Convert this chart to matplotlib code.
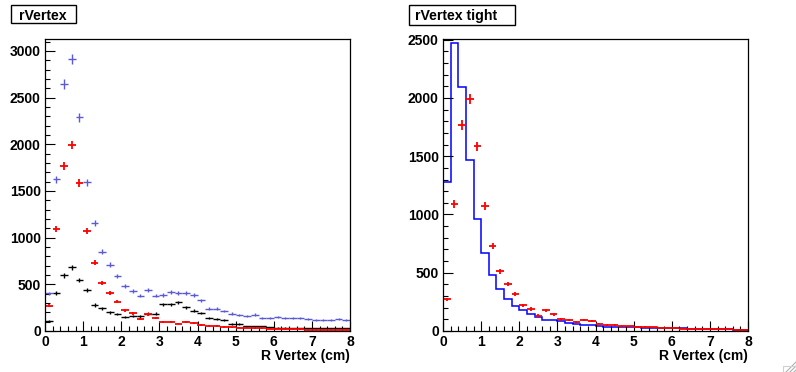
import matplotlib
matplotlib.use("Agg")
import matplotlib.pyplot as plt
import numpy as np
from matplotlib.ticker import MultipleLocator
from matplotlib.lines import Line2D
from matplotlib.patches import Rectangle

plt.rcParams['font.family'] = ['Liberation Sans', 'DejaVu Sans']
plt.rcParams['font.weight'] = 'bold'

# 40 bins of 0.2 cm between 0 and 8 cm
edges = np.linspace(0, 8, 41)
centers = 0.5 * (edges[:-1] + edges[1:])

# left pad "rVertex"
blue_loose = [403, 1625, 2643, 2914, 2289, 1593, 1154, 850, 711, 589,
              482, 425, 379, 436, 379, 386, 418, 407, 407, 389,
              329, 239, 239, 214, 186, 171, 161, 175, 139, 139,
              150, 139, 139, 139, 129, 118, 118, 118, 129, 118]
red_loose = [271, 1089, 1771, 1989, 1586, 1075, 732, 511, 404, 314,
             221, 189, 132, 179, 143, 100, 93, 79, 93, 86,
             64, 54, 54, 42, 40, 36, 33, 32, 30, 26,
             22, 20, 19, 17, 16, 15, 14, 13, 12, 10]
black_loose = [104, 404, 596, 682, 543, 436, 279, 243, 200, 180,
               147, 161, 157, 186, 186, 286, 286, 307, 254, 216,
               192, 136, 125, 114, 75, 75, 50, 50, 50, 40,
               36, 32, 30, 30, 30, 28, 28, 28, 28, 28]

# right pad "rVertex tight"
blue_tight = [1283, 2471, 2093, 1466, 959, 667, 478, 358, 272, 212,
              178, 143, 123, 92, 92, 86, 69, 57, 49, 49,
              40, 37, 34, 34, 34, 34, 29, 29, 29, 29,
              23, 23, 20, 20, 17, 17, 17, 14, 12, 9]
red_tight = red_loose

W, H = 796, 372
fig = plt.figure(figsize=(W / 100, H / 100), dpi=100)


def px(x, y):
    # pixel position (from top left) -> figure fraction
    return x / W, 1 - y / H


def make_axes(x0, ymax, title, box):
    ax = fig.add_axes([x0 / W, (H - 331) / H, 305 / W, 292 / H])
    ax.set_xlim(0, 8)
    ax.set_ylim(0, ymax)
    ax.xaxis.set_major_locator(MultipleLocator(1))
    ax.xaxis.set_minor_locator(MultipleLocator(0.2))
    ax.yaxis.set_major_locator(MultipleLocator(500))
    ax.yaxis.set_minor_locator(MultipleLocator(100))
    ax.tick_params(which='both', direction='in', top=False, right=False, width=0.8)
    ax.tick_params(which='major', length=7.2, labelsize=10, pad=3)
    ax.tick_params(which='minor', length=3.6)
    for lab in ax.get_xticklabels() + ax.get_yticklabels():
        lab.set_fontweight('bold')
    for s in ax.spines.values():
        s.set_linewidth(0.9)
    fig.text(*px(x0 + 305, 360), 'R Vertex (cm)', fontsize=10, fontweight='bold',
             ha='right', va='baseline')
    # title box at top left of the pad
    bx0, by0, bx1, by1, tx = box
    fig.add_artist(Rectangle(px(bx0, by1), (bx1 - bx0) / W, (by1 - by0) / H,
                             transform=fig.transFigure, fc='white', ec='black', lw=1.0))
    fig.text(*px(tx, 20.2), title, fontsize=10.2, fontweight='bold',
             ha='left', va='baseline')
    return ax


ax1 = make_axes(45, 3128, 'rVertex', (10.7, 5, 76.3, 23.3, 19.3))
ax1.errorbar(centers, blue_loose, xerr=0.1, yerr=np.sqrt(blue_loose), fmt='none',
             ecolor='#5a5ad8', elinewidth=1.0, capsize=0)
ax1.errorbar(centers, black_loose, xerr=0.1, yerr=np.sqrt(black_loose), fmt='none',
             ecolor='black', elinewidth=1.0, capsize=0)
ax1.errorbar(centers, red_loose, xerr=0.1, yerr=np.sqrt(red_loose), fmt='none',
             ecolor='red', elinewidth=1.3, capsize=0)

ax2 = make_axes(443, 2506, 'rVertex tight', (408.7, 4.7, 515.3, 25.3, 415.3))
ax2.stairs(blue_tight, edges, color='blue', lw=1.1)
ax2.errorbar(centers, red_tight, xerr=0.1, yerr=np.sqrt(red_tight), fmt='none',
             ecolor='red', elinewidth=1.3, capsize=0)

# window resize grip in the corner
for k in (0, 4, 8):
    fig.add_artist(Line2D([(786 + k) / W, 796 / W], [0, (10 - k) / H],
                          color='#b0b0b0', lw=0.8))
fig.add_artist(Line2D([783 / W, 783 / W, 796 / W], [0, 6 / H, 6 / H],
                      color='#d0d0d0', lw=0.8))

fig.savefig('out.png', dpi=100)
